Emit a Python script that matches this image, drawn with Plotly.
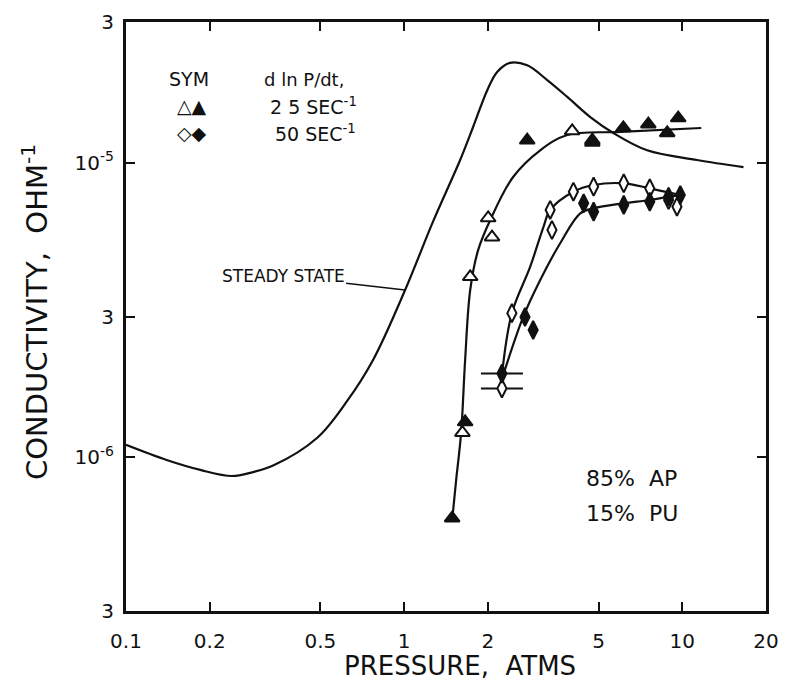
import numpy as np
import plotly.graph_objects as go

# ---- data (pressure in atm, conductivity in ohm^-1) ----
ss_p = [0.10, 0.14, 0.185, 0.24, 0.286, 0.338, 0.486, 0.624, 0.774, 1.008, 1.27, 1.59, 1.77, 1.99, 2.16, 2.40, 2.77, 3.27, 3.86, 4.67, 5.65, 7.48, 11.3, 16.6]
ss_s = [1.10e-6, 0.977e-6, 0.904e-6, 0.862e-6, 0.889e-6, 0.935e-6, 1.16e-6, 1.55e-6, 2.14e-6, 3.69e-6, 6.30e-6, 1.02e-5, 1.32e-5, 1.76e-5, 2.03e-5, 2.18e-5, 2.14e-5, 1.905e-5, 1.67e-5, 1.427e-5, 1.26e-5, 1.10e-5, 1.02e-5, 0.965e-5]

tri_fit_p = [1.488, 1.538, 1.603, 1.657, 1.728, 1.846, 2.04, 2.465, 3.085, 3.86, 5.98, 11.7]
tri_fit_s = [6.09e-7, 0.835e-6, 1.21e-6, 2.14e-6, 3.69e-6, 5.05e-6, 6.38e-6, 8.93e-6, 1.10e-5, 1.24e-5, 1.27e-5, 1.31e-5]

tri_open_p = [1.62, 1.728, 2.005, 2.07, 4.02, 4.75]
tri_open_s = [1.21e-6, 4.09e-6, 6.48e-6, 5.58e-6, 1.28e-5, 1.19e-5]

tri_fill_p = [1.488, 1.657, 2.77, 4.75, 6.14, 7.55, 8.83, 9.67]
tri_fill_s = [6.2e-7, 1.315e-6, 1.19e-5, 1.17e-5, 1.31e-5, 1.35e-5, 1.26e-5, 1.416e-5]

dia_open_p = [2.247, 2.44, 3.35, 3.40, 4.06, 4.80, 6.16, 7.64, 8.93, 9.57]
dia_open_s = [1.71e-6, 3.08e-6, 6.9e-6, 5.90e-6, 7.96e-6, 8.28e-6, 8.50e-6, 8.17e-6, 7.46e-6, 7.08e-6]

dia_fill_p = [2.247, 2.72, 2.91, 4.42, 4.80, 6.16, 7.64, 8.93, 9.84]
dia_fill_s = [1.92e-6, 2.99e-6, 2.70e-6, 7.27e-6, 6.81e-6, 7.18e-6, 7.36e-6, 7.65e-6, 7.76e-6]

dia_up_fit_p = [2.247, 2.44, 2.84, 3.17, 3.35, 4.06, 4.80, 6.16, 7.64, 9.84]
dia_up_fit_s = [1.90e-6, 3.08e-6, 4.43e-6, 6.05e-6, 6.9e-6, 7.96e-6, 8.39e-6, 8.50e-6, 8.17e-6, 7.76e-6]

dia_lo_fit_p = [2.28, 2.68, 3.085, 3.64, 4.30, 4.80, 6.16, 7.64, 9.84]
dia_lo_fit_s = [1.92e-6, 2.99e-6, 3.99e-6, 5.32e-6, 6.72e-6, 6.99e-6, 7.27e-6, 7.46e-6, 7.76e-6]

bar_p = [2.247, 2.247]
bar_s = [1.92e-6, 1.71e-6]

x_ticks = [0.1, 0.2, 0.5, 1, 2, 5, 10, 20]
x_ticktext = ["0.1", "0.2", "0.5", "1", "2", "5", "10", "20"]
y_ticks = [3e-7, 1e-6, 3e-6, 1e-5, 3e-5]
y_ticktext = ["3", "10<sup>-6</sup>", "3", "10<sup>-5</sup>", "3"]

FONT = "DejaVu Sans"
BLK = "#111111"

fig = go.Figure()

def line(px, py, sm=1.0):
    fig.add_trace(go.Scatter(x=px, y=py, mode="lines", line=dict(color=BLK, width=2.2, shape="spline", smoothing=sm),
                             showlegend=False, hoverinfo="skip"))

def marks(px, py, sym, size, fill, lw=2):
    fig.add_trace(go.Scatter(x=px, y=py, mode="markers",
                             marker=dict(symbol=sym, size=size, color=fill, line=dict(color=BLK, width=lw)),
                             showlegend=False, hoverinfo="skip"))

line(ss_p, ss_s, 1.0)
line(tri_fit_p, tri_fit_s)
line(dia_up_fit_p, dia_up_fit_s)
line(dia_lo_fit_p, dia_lo_fit_s)

fig.add_trace(go.Scatter(x=bar_p, y=bar_s, mode="markers",
                         marker=dict(symbol="line-ew", size=30, line=dict(color=BLK, width=2)),
                         showlegend=False, hoverinfo="skip"))

marks(tri_open_p, tri_open_s, "triangle-up", 13, "white")
marks(tri_fill_p, tri_fill_s, "triangle-up", 13, BLK)
marks(dia_open_p, dia_open_s, "diamond-tall", 13, "white")
marks(dia_fill_p, dia_fill_s, "diamond-tall", 13, BLK)

axis_common = dict(type="log", showgrid=False, zeroline=False, showline=True, linewidth=3, linecolor=BLK,
                   mirror="allticks", ticks="inside", ticklen=9, tickwidth=2, tickcolor=BLK,
                   tickfont=dict(family=FONT, size=20, color=BLK))

fig.update_xaxes(range=[-1, np.log10(20)], tickvals=x_ticks, ticktext=x_ticktext, ticklabelstandoff=10, **axis_common)
fig.update_yaxes(range=[np.log10(3e-7), np.log10(3e-5)], tickvals=y_ticks, ticktext=y_ticktext, ticklabelstandoff=5, **axis_common)

W, H = 786, 695
L, R, T, B = 126, 20, 22, 84
pw, ph = W - L - R, H - T - B

def px2paper(x, y):
    return (x - L) / pw, (H - B - y) / ph

annots = []
def txt(text, x, y, size=18, xanchor="center", angle=0):
    ax_, ay_ = px2paper(x, y)
    annots.append(dict(text=text, x=ax_, y=ay_, xref="paper", yref="paper", showarrow=False,
                       xanchor=xanchor, yanchor="middle", textangle=angle,
                       font=dict(family=FONT, size=size, color=BLK)))

txt("PRESSURE,  ATMS", 460, 666, size=26)
txt("CONDUCTIVITY,  OHM<sup>-1</sup>", 35, 312, size=29, angle=-90)
txt("SYM", 189, 79, size=19)
txt("d ln P/dt,", 262, 79, size=18, xanchor="left")
txt("△▲", 192, 106, size=19)
txt("2 5 SEC<sup>-1</sup>", 268, 106, size=19, xanchor="left")
txt("◇◆", 192, 133, size=19)
txt("50 SEC<sup>-1</sup>", 273, 133, size=19, xanchor="left")
txt("85%  AP", 631, 478, size=22)
txt("15%  PU", 632, 513, size=22)

annots.append(dict(text="STEADY STATE", x=np.log10(1.008), y=np.log10(3.69e-6), xref="x", yref="y",
                   showarrow=True, arrowhead=0, arrowwidth=1.6, arrowcolor=BLK, ax=-122, ay=-14,
                   font=dict(family=FONT, size=17, color=BLK)))

fig.update_layout(width=W, height=H, margin=dict(l=L, r=R, t=T, b=B, autoexpand=False),
                  paper_bgcolor="white", plot_bgcolor="white", annotations=annots, showlegend=False)

fig.write_html("out.html")
